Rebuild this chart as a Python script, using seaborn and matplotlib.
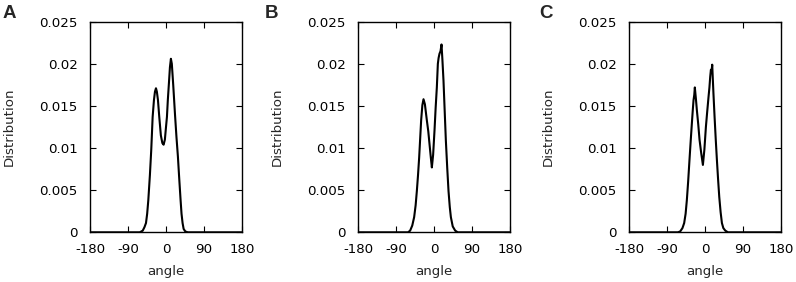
import pandas as pd
import seaborn as sns
import matplotlib.pyplot as plt

# angle distributions
angle_a = [-180, -62, -55, -51, -47.3, -44.5, -41.8, -38, -34.8, -31.5, -28.4, -26, -23.6, -21.5,
           -18.9, -15.8, -12, -8.5, -5.5, -2.5, 0, 2.4, 4.5, 7.1, 9.5, 11.8, 14, 17.3, 21.5, 25,
           28.4, 31.4, 34.8, 37, 39.5, 42, 46, 52, 180]
dist_a = [0, 0, 0.0002, 0.0006, 0.0011, 0.0022, 0.0038, 0.0068, 0.0098, 0.0137, 0.0157, 0.0167,
          0.0171, 0.0167, 0.0157, 0.0137, 0.0115, 0.0106, 0.0104, 0.0110, 0.0124, 0.0137, 0.0157,
          0.0177, 0.0196, 0.0206, 0.0200, 0.0175, 0.0140, 0.0113, 0.0090, 0.0065, 0.0038, 0.0022,
          0.0011, 0.0004, 0.0001, 0, 0]

angle_b = [-180, -62, -57, -52, -47.5, -44, -41.1, -38.3, -35.6, -30.9, -28, -25.3, -22, -17.4,
           -14, -11.1, -8, -5.5, -2.5, 0.8, 3.5, 6.3, 8.7, 10.5, 12.6, 15, 17.4, 19.5, 22.1, 25,
           27.7, 31, 34, 37, 39.6, 44, 49.8, 56, 180]
dist_b = [0, 0, 0.0002, 0.0008, 0.0018, 0.0032, 0.0049, 0.0068, 0.0089, 0.0133, 0.0151, 0.0158,
          0.0152, 0.0133, 0.0120, 0.0105, 0.0089, 0.0077, 0.0092, 0.0121, 0.0148, 0.0172, 0.0200,
          0.0207, 0.0212, 0.0215, 0.0223, 0.0205, 0.0180, 0.0143, 0.0109, 0.0076, 0.0049, 0.0030,
          0.0018, 0.0007, 0.0002, 0, 0]

angle_c = [-180, -65, -59.4, -54, -49.9, -46.5, -43.6, -40.5, -37.3, -34.5, -31.7, -29.5, -27.7,
           -26, -24.6, -23.5, -22, -19.8, -16.5, -13.5, -9.5, -5.5, -2, 1.6, 4.5, 7.9, 10, 11.9,
           13.5, 14.8, 16.6, 17.5, 19.5, 22.2, 25, 27.7, 30.5, 33.3, 36.5, 39.6, 43, 47.6, 54, 180]
dist_c = [0, 0, 0.0001, 0.0005, 0.0011, 0.0022, 0.0038, 0.0060, 0.0086, 0.0108, 0.0129, 0.0145,
          0.0157, 0.0163, 0.0172, 0.0166, 0.0158, 0.0145, 0.0128, 0.0110, 0.0094, 0.0080, 0.0098,
          0.0125, 0.0142, 0.0161, 0.0172, 0.0185, 0.0193, 0.0190, 0.0199, 0.0188, 0.0165, 0.0137,
          0.0110, 0.0086, 0.0063, 0.0042, 0.0024, 0.0011, 0.0005, 0.0002, 0, 0]

panels = [('A', angle_a, dist_a), ('B', angle_b, dist_b), ('C', angle_c, dist_c)]
x_ticks = [-180, -90, 0, 90, 180]
y_ticks = [0, 0.005, 0.01, 0.015, 0.02, 0.025]
y_labels = ['0', '0.005', '0.01', '0.015', '0.02', '0.025']

sns.set_style('ticks')
plt.rcParams['font.family'] = ['DejaVu Sans']
plt.rcParams['font.size'] = 9.6

fig = plt.figure(figsize=(7.96, 2.82), dpi=100)
lefts = [0.1131, 0.4501, 0.7906]
letter_x = [0.003, 0.333, 0.678]

for (name, angle, dist), left, lx in zip(panels, lefts, letter_x):
    ax = fig.add_axes([left, 0.1762, 0.1907, 0.7468])
    df = pd.DataFrame({'angle': angle, 'Distribution': dist})
    sns.lineplot(data=df, x='angle', y='Distribution', color='black', linewidth=1.5, ax=ax)
    ax.set_xlim(-180, 180)
    ax.set_ylim(0, 0.025)
    ax.set_xticks(x_ticks)
    ax.set_xticklabels([str(t) for t in x_ticks])
    ax.set_yticks(y_ticks)
    ax.set_yticklabels(y_labels)
    ax.tick_params(direction='in', top=True, right=True, length=4, width=0.8,
                   labelsize=9.6, colors='black')
    ax.tick_params(axis='x', pad=8)
    ax.tick_params(axis='y', pad=9)
    ax.set_xlabel('angle', labelpad=6.5)
    ax.set_ylabel('Distribution', labelpad=17)
    for s in ax.spines.values():
        s.set_linewidth(1.0)
        s.set_color('black')
    fig.text(lx, 0.935, name, fontsize=13.5, fontweight='bold', family='Liberation Sans',
             va='baseline', ha='left')

plt.savefig('out.png', dpi=100)
